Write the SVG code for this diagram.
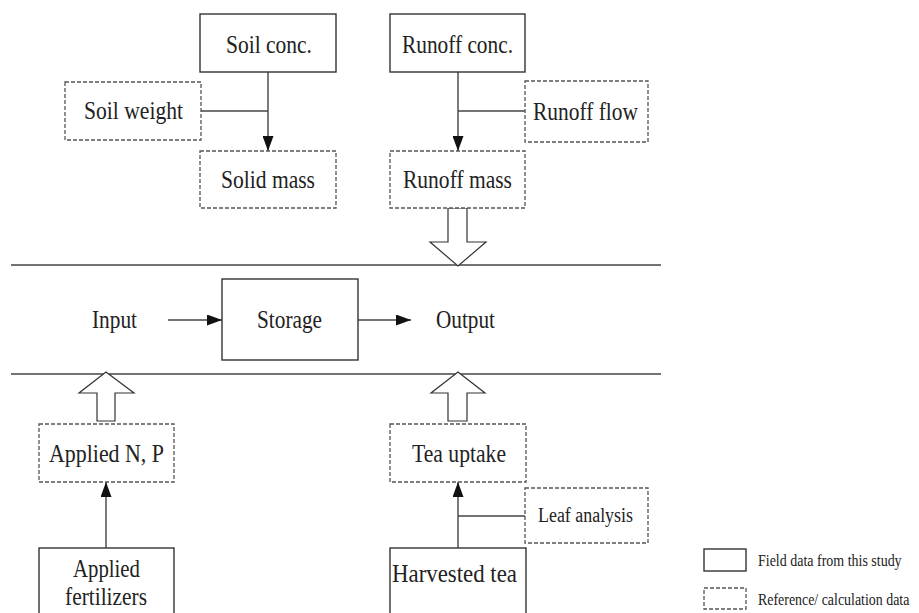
<svg xmlns="http://www.w3.org/2000/svg" width="919" height="613" viewBox="0 0 919 613">
<style>
.solid{fill:#fff;stroke:#333;stroke-width:1.4}
.dash{fill:#fff;stroke:#555;stroke-width:1.3;stroke-dasharray:4 2}
.ln{fill:none;stroke:#444;stroke-width:1.4}
.hollow{fill:#fff;stroke:#333;stroke-width:1.2;stroke-linejoin:miter}
text{font-family:"Liberation Serif","DejaVu Serif",serif;fill:#222;font-size:26px}
.sm{font-size:20px}
.xs{font-size:16px}
</style>
<defs>
<marker id="ah" markerUnits="userSpaceOnUse" markerWidth="16" markerHeight="11" refX="15" refY="5.5" orient="auto">
<path d="M0,0 L15,5.5 L0,11 Z" fill="#111"/>
</marker>
</defs>
<rect width="919" height="613" fill="#fff"/>
<g id="bands">
<line x1="11" y1="265" x2="661" y2="265" class="ln" stroke="#222"/>
<line x1="11" y1="374" x2="661" y2="374" class="ln" stroke="#222"/>
</g>
<g id="connectors">
<line x1="268" y1="72" x2="268" y2="151" class="ln" marker-end="url(#ah)"/>
<line x1="201" y1="111" x2="268" y2="111" class="ln"/>
<line x1="458" y1="72" x2="458" y2="151" class="ln" marker-end="url(#ah)"/>
<line x1="458" y1="111" x2="525" y2="111" class="ln"/>
<line x1="168" y1="320" x2="222" y2="320" class="ln" marker-end="url(#ah)"/>
<line x1="358" y1="320" x2="411" y2="320" class="ln" marker-end="url(#ah)"/>
<line x1="106" y1="548" x2="106" y2="482" class="ln" marker-end="url(#ah)"/>
<line x1="458" y1="548" x2="458" y2="482" class="ln" marker-end="url(#ah)"/>
<line x1="458" y1="516" x2="525" y2="516" class="ln"/>
<path class="hollow" d="M448,208 L467,208 L467,242 L486,242 L458,266 L430,242 L448,242 Z"/>
<path class="hollow" d="M97,421 L115,421 L115,393 L134,393 L106,372 L79,393 L97,393 Z"/>
<path class="hollow" d="M448,421 L467,421 L467,393 L485,393 L458,372 L431,393 L448,393 Z"/>
</g>
<g id="soil-conc"><rect class="solid" x="200" y="14" width="136" height="58"/><text x="226" y="53" textLength="86" lengthAdjust="spacingAndGlyphs">Soil conc.</text></g>
<g id="soil-weight"><rect class="dash" x="65" y="82" width="136" height="58"/><text x="84" y="119" textLength="99" lengthAdjust="spacingAndGlyphs">Soil weight</text></g>
<g id="solid-mass"><rect class="dash" x="200" y="151" width="136" height="57"/><text x="221" y="188" textLength="94" lengthAdjust="spacingAndGlyphs">Solid mass</text></g>
<g id="runoff-conc"><rect class="solid" x="390" y="14" width="135" height="58"/><text x="402" y="53" textLength="111" lengthAdjust="spacingAndGlyphs">Runoff conc.</text></g>
<g id="runoff-flow"><rect class="dash" x="525" y="81" width="123" height="61"/><text x="533" y="120" textLength="105" lengthAdjust="spacingAndGlyphs">Runoff flow</text></g>
<g id="runoff-mass"><rect class="dash" x="390" y="151" width="135" height="57"/><text x="403" y="188" textLength="109" lengthAdjust="spacingAndGlyphs">Runoff mass</text></g>
<g id="input"><text x="92" y="328" textLength="45" lengthAdjust="spacingAndGlyphs">Input</text></g>
<g id="storage"><rect class="solid" x="222" y="279" width="136" height="81"/><text x="257" y="328" textLength="65" lengthAdjust="spacingAndGlyphs">Storage</text></g>
<g id="output"><text x="436" y="328" textLength="59" lengthAdjust="spacingAndGlyphs">Output</text></g>
<g id="applied-np"><rect class="dash" x="39" y="424" width="135" height="58"/><text x="49" y="462" textLength="115" lengthAdjust="spacingAndGlyphs">Applied N, P</text></g>
<g id="applied-fertilizers"><rect class="solid" x="39" y="548" width="135" height="80"/><text x="73" y="577" textLength="67" lengthAdjust="spacingAndGlyphs">Applied</text><text x="65" y="605" textLength="82" lengthAdjust="spacingAndGlyphs">fertilizers</text></g>
<g id="tea-uptake"><rect class="dash" x="390" y="424" width="136" height="58"/><text x="412" y="462" textLength="94" lengthAdjust="spacingAndGlyphs">Tea uptake</text></g>
<g id="leaf-analysis"><rect class="dash" x="525" y="488" width="123" height="55"/><text class="sm" x="538" y="522" textLength="95" lengthAdjust="spacingAndGlyphs">Leaf analysis</text></g>
<g id="harvested-tea"><rect class="solid" x="390" y="548" width="136" height="80"/><text x="392" y="582" textLength="125" lengthAdjust="spacingAndGlyphs">Harvested tea</text></g>
<g id="legend">
<rect class="solid" x="704" y="549" width="42" height="22" stroke-width="1"/>
<text class="xs" transform="translate(758,566) scale(0.86,1)" x="0" y="0" textLength="167" lengthAdjust="spacingAndGlyphs">Field data from this study</text>
<rect class="dash" x="704" y="588" width="42" height="21" stroke-width="1" stroke-dasharray="3 2"/>
<text class="xs" transform="translate(758,605) scale(0.86,1)" x="0" y="0" textLength="176" lengthAdjust="spacingAndGlyphs">Reference/ calculation  data</text>
</g>
</svg>
